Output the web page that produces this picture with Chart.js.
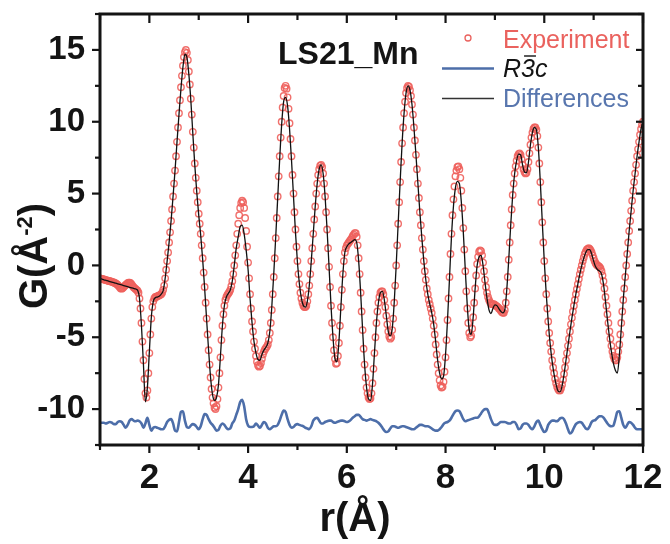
<!DOCTYPE html>
<html>
<head>
<meta charset="utf-8">
<script src="https://cdn.jsdelivr.net/npm/chart.js@4.4.1/dist/chart.umd.min.js"></script>
<style>
  html, body { margin: 0; padding: 0; background: #fff; }
  canvas { display: block; }
</style>
</head>
<body>
<canvas id="pdf" width="670" height="544"></canvas>
<script>
// r grid (Å) and axis ticks
const R_START = 1.0;
const EXP_STEP = 0.02;   // experimental G(r) sampling
const CALC_STEP = 0.04;  // refined model / difference sampling
const X_RANGE = [1, 12];
const Y_RANGE = [-12.5, 17.5];
const X_TICKS = [2, 4, 6, 8, 10, 12];
const Y_TICKS = [-10, -5, 0, 5, 10, 15];

// Experimental G(r), r = 1.00 ... 12.00 step 0.02 (one row per 0.2 Å)
const gExperiment = [
  -0.90,-0.92,-0.94,-0.96,-0.98,-1.00,-1.02,-1.04,-1.06,-1.08,
  -1.10,-1.12,-1.14,-1.16,-1.19,-1.22,-1.26,-1.30,-1.36,-1.44,
  -1.52,-1.60,-1.62,-1.58,-1.50,-1.42,-1.36,-1.30,-1.24,-1.20,
  -1.20,-1.24,-1.32,-1.42,-1.52,-1.58,-1.64,-1.70,-1.76,-1.90,
  -2.30,-3.0,-4.0,-5.3,-6.6,-7.9,-8.9,-9.2,-8.7,-7.5,
  -6.1,-4.8,-3.7,-2.9,-2.5,-2.3,-2.2,-2.2,-2.15,-2.1,
  -2.1,-2.05,-2.0,-1.9,-1.7,-1.4,-0.9,-0.3,0.3,0.9,
  1.6,2.3,3.1,3.9,4.8,5.7,6.6,7.6,8.6,9.6,
  10.6,11.5,12.4,13.2,13.9,14.5,14.85,15.0,14.8,14.3,
  13.5,12.6,11.6,10.5,9.3,8.2,7.1,6.1,5.2,4.4,
  3.6,2.9,2.2,1.4,0.5,-0.5,-1.5,-2.6,-3.7,-4.8,
  -5.9,-6.9,-7.8,-8.6,-9.2,-9.6,-9.9,-10.0,-9.8,-9.3,
  -8.5,-7.5,-6.4,-5.2,-4.2,-3.4,-2.8,-2.4,-2.2,-2.05,
  -1.95,-1.85,-1.7,-1.45,-1.1,-0.6,0.0,0.7,1.4,2.2,
  2.9,3.5,4.0,4.35,4.5,4.4,4.0,3.3,2.4,1.3,
  0.2,-0.9,-2.0,-3.0,-3.9,-4.6,-5.3,-5.8,-6.3,-6.7,
  -6.95,-7.05,-7.0,-6.8,-6.5,-6.2,-6.0,-5.85,-5.75,-5.65,
  -5.5,-5.2,-4.7,-4.0,-3.1,-2.0,-0.8,0.5,1.9,3.3,
  4.8,6.2,7.6,8.9,10.0,11.0,11.8,12.35,12.5,12.3,
  11.7,10.9,9.9,8.8,7.6,6.3,5.0,3.7,2.5,1.3,
  0.3,-0.6,-1.3,-1.9,-2.3,-2.6,-2.8,-2.9,-2.9,-2.8,
  -2.5,-2.0,-1.4,-0.6,0.3,1.2,2.2,3.2,4.1,5.0,
  5.7,6.3,6.7,6.95,7.0,6.85,6.4,5.7,4.8,3.7,
  2.5,1.2,-0.1,-1.5,-2.8,-4.0,-5.0,-5.9,-6.5,-6.85,
  -6.8,-6.3,-5.4,-4.2,-2.9,-1.7,-0.6,0.3,0.9,1.2,
  1.4,1.5,1.6,1.7,1.8,1.9,2.05,2.15,2.25,2.25,
  2.0,1.4,0.5,-0.6,-1.9,-3.2,-4.5,-5.8,-6.9,-7.8,
  -8.5,-8.9,-9.2,-9.3,-9.25,-8.9,-8.2,-7.2,-6.1,-5.0,
  -4.0,-3.2,-2.6,-2.2,-1.9,-1.8,-1.8,-2.0,-2.4,-2.9,
  -3.5,-4.1,-4.6,-4.95,-5.1,-5.0,-4.5,-3.7,-2.6,-1.4,
  0.0,1.4,2.9,4.4,5.8,7.2,8.5,9.6,10.6,11.4,
  12.0,12.35,12.5,12.45,12.2,11.8,11.2,10.5,9.6,8.7,
  7.7,6.7,5.7,4.7,3.7,2.8,1.9,1.1,0.3,-0.4,
  -1.0,-1.6,-2.0,-2.4,-2.7,-3.0,-3.3,-3.7,-4.2,-4.8,
  -5.5,-6.2,-6.9,-7.5,-8.0,-8.35,-8.5,-8.45,-8.1,-7.4,
  -6.4,-5.2,-3.8,-2.3,-0.8,0.8,2.2,3.5,4.6,5.5,
  6.2,6.6,6.85,6.9,6.7,6.1,5.2,4.0,2.6,1.1,
  -0.4,-1.8,-3.0,-4.0,-4.7,-5.0,-4.9,-4.4,-3.6,-2.6,
  -1.6,-0.7,0.1,0.6,0.95,1.05,1.0,0.7,0.2,-0.4,
  -1.0,-1.5,-1.9,-2.2,-2.4,-2.55,-2.65,-2.7,-2.7,-2.7,
  -2.75,-2.8,-2.85,-2.9,-3.0,-3.05,-3.15,-3.25,-3.3,-3.3,
  -3.1,-2.6,-1.8,-0.8,0.4,1.6,2.8,3.9,4.9,5.7,
  6.4,6.9,7.3,7.6,7.75,7.8,7.7,7.4,7.0,6.7,
  6.5,6.4,6.45,6.7,7.2,7.8,8.4,8.9,9.25,9.5,
  9.6,9.6,9.45,9.0,8.2,7.1,5.8,4.4,3.0,1.6,
  0.3,-0.9,-2.0,-3.0,-3.9,-4.7,-5.4,-6.0,-6.6,-7.1,
  -7.5,-7.9,-8.2,-8.45,-8.6,-8.7,-8.7,-8.55,-8.3,-7.95,
  -7.55,-7.1,-6.6,-6.1,-5.6,-5.1,-4.6,-4.1,-3.65,-3.2,
  -2.8,-2.4,-2.0,-1.65,-1.3,-0.95,-0.6,-0.3,0.0,0.3,
  0.55,0.8,0.95,1.1,1.15,1.2,1.15,1.05,0.9,0.7,
  0.5,0.3,0.15,0.05,0.0,-0.05,-0.1,-0.2,-0.4,-0.7,
  -1.1,-1.6,-2.2,-2.8,-3.4,-4.0,-4.6,-5.1,-5.6,-6.0,
  -6.3,-6.5,-6.6,-6.6,-6.4,-6.0,-5.5,-4.8,-4.0,-3.2,
  -2.4,-1.6,-0.8,0.0,0.8,1.6,2.4,3.1,3.8,4.5,
  5.2,5.8,6.4,7.0,7.6,8.1,8.6,9.1,9.5,9.8,
  10.0
];

// Refined R-3c model G(r), r = 1.00 ... 12.00 step 0.04
const gCalculated = [
  -0.90,-0.95,-1.00,-1.04,-1.08,
  -1.12,-1.16,-1.20,-1.24,-1.28,
  -1.32,-1.36,-1.40,-1.44,-1.48,
  -1.52,-1.56,-1.60,-1.64,-1.72,
  -2.3,-4.2,-6.9,-9.5,-8.5,
  -6.0,-3.6,-2.5,-2.25,-2.2,
  -2.15,-2.0,-1.75,-0.9,0.3,
  1.6,3.1,4.8,6.6,8.6,
  10.5,12.3,13.8,14.7,14.5,
  13.3,11.5,9.2,7.0,5.1,
  3.5,2.1,0.4,-1.6,-3.8,
  -5.9,-7.8,-9.0,-9.4,-9.2,
  -8.3,-6.3,-4.2,-2.8,-2.2,
  -1.95,-1.7,-1.1,0.0,1.2,
  2.0,2.7,2.8,2.2,1.1,
  -0.3,-2.3,-4.0,-5.3,-6.1,
  -6.55,-6.6,-6.2,-5.9,-5.7,
  -5.4,-4.6,-2.9,-0.6,2.0,
  4.7,7.4,9.8,11.4,11.7,
  11.1,9.5,7.3,4.8,2.3,
  0.2,-1.3,-2.3,-2.8,-2.9,
  -2.5,-1.4,0.3,2.2,4.1,
  5.7,6.7,7.0,6.4,4.8,
  2.5,-0.1,-2.8,-5.0,-6.5,
  -6.7,-5.3,-2.9,-0.6,0.9,
  1.3,1.5,1.6,1.7,1.8,
  1.6,0.3,-1.9,-4.5,-6.9,
  -8.5,-9.3,-9.4,-8.3,-6.1,
  -4.0,-2.6,-1.9,-1.8,-2.4,
  -3.5,-4.6,-4.9,-4.4,-2.6,
  0.0,2.9,5.8,8.5,10.6,
  12.0,12.5,12.2,11.2,9.6,
  7.7,5.7,3.7,1.9,0.3,
  -1.0,-2.0,-2.7,-3.3,-4.1,
  -5.3,-6.6,-7.5,-7.9,-7.7,
  -6.2,-3.8,-0.9,2.0,4.1,
  5.4,5.85,5.7,4.4,2.3,
  -0.3,-2.8,-4.5,-4.8,-3.6,
  -1.6,0.0,0.6,0.7,0.0,
  -1.2,-2.3,-3.1,-3.35,-3.0,
  -2.75,-2.8,-3.0,-3.2,-3.3,
  -3.1,-1.7,0.4,2.8,4.9,
  6.4,7.3,7.75,7.7,7.0,
  6.5,6.45,7.2,8.4,9.25,
  9.6,9.45,8.2,5.8,3.0,
  0.3,-2.0,-3.9,-5.5,-6.7,
  -7.6,-8.3,-8.75,-8.8,-8.4,
  -7.6,-6.6,-5.6,-4.6,-3.65,
  -2.8,-2.0,-1.3,-0.6,0.0,
  0.5,0.9,1.1,1.1,0.8,
  0.3,-0.1,-0.3,-0.4,-0.6,
  -1.3,-2.5,-3.8,-5.0,-6.0,
  -6.8,-7.3,-7.5,-6.3,-4.4,
  -2.4,-0.8,0.8,2.4,3.8,
  5.2,6.4,7.6,8.6,9.5,
  10.0
];

// Difference curve (shifted down), r = 1.00 ... 12.00 step 0.04
const gDifference = [
  -10.95,-10.95,-10.95,-11.0,-10.95,
  -10.9,-10.95,-11.05,-11.05,-10.9,
  -10.85,-10.9,-11.1,-11.3,-11.1,
  -10.8,-10.7,-10.8,-10.85,-10.8,
  -10.85,-11.0,-11.3,-11.0,-10.6,
  -11.1,-11.5,-11.3,-11.25,-11.3,
  -11.35,-11.4,-11.4,-11.2,-10.9,
  -10.75,-10.7,-11.0,-11.5,-11.55,
  -10.9,-10.2,-10.15,-10.8,-11.25,
  -11.3,-11.15,-11.05,-11.1,-11.25,
  -11.4,-11.2,-10.7,-10.35,-10.4,
  -10.7,-10.95,-11.1,-11.3,-11.5,
  -11.45,-11.15,-11.0,-11.1,-11.3,
  -11.4,-11.35,-11.0,-10.8,-10.4,
  -10.0,-9.5,-9.35,-9.8,-10.7,
  -11.15,-11.25,-11.25,-11.2,-11.0,
  -11.15,-11.3,-11.1,-10.9,-11.0,
  -11.3,-11.4,-11.3,-11.2,-11.2,
  -11.1,-10.8,-10.4,-10.1,-10.2,
  -10.7,-11.1,-11.3,-11.25,-11.1,
  -11.05,-11.1,-11.15,-11.2,-11.3,
  -11.35,-11.4,-11.2,-10.8,-10.65,
  -10.6,-10.8,-11.0,-11.0,-10.9,
  -10.85,-10.8,-10.8,-10.9,-10.95,
  -10.9,-10.85,-10.8,-10.8,-10.85,
  -10.9,-10.85,-10.75,-10.6,-10.5,
  -10.4,-10.4,-10.55,-10.7,-10.75,
  -10.8,-10.75,-10.7,-10.75,-10.8,
  -10.85,-10.95,-11.1,-11.3,-11.5,
  -11.6,-11.55,-11.35,-11.2,-11.2,
  -11.25,-11.3,-11.25,-11.2,-11.2,
  -11.25,-11.3,-11.35,-11.4,-11.4,
  -11.3,-11.2,-11.1,-11.1,-11.15,
  -11.2,-11.2,-11.25,-11.35,-11.45,
  -11.5,-11.5,-11.4,-11.25,-11.05,
  -10.95,-10.9,-10.8,-10.6,-10.35,
  -10.15,-10.1,-10.15,-10.4,-10.7,
  -10.85,-10.8,-10.75,-10.7,-10.65,
  -10.6,-10.6,-10.5,-10.3,-10.1,
  -10.0,-10.0,-10.3,-10.7,-11.0,
  -11.1,-11.1,-11.0,-10.9,-10.9,
  -10.9,-10.95,-11.0,-11.0,-10.9,
  -10.9,-11.1,-11.4,-11.35,-11.1,
  -11.0,-11.0,-11.1,-11.3,-11.4,
  -11.2,-10.9,-10.8,-11.1,-11.4,
  -11.6,-11.5,-11.1,-10.9,-10.8,
  -10.8,-10.85,-10.8,-10.65,-10.6,
  -10.7,-11.0,-11.4,-11.7,-11.6,
  -11.3,-11.05,-10.95,-10.9,-10.95,
  -11.15,-11.35,-11.4,-11.2,-10.9,
  -10.8,-10.75,-10.6,-10.5,-10.5,
  -10.6,-10.8,-11.0,-11.15,-11.2,
  -11.15,-10.7,-10.2,-10.15,-10.6,
  -11.1,-11.3,-11.1,-10.9,-10.95,
  -11.1,-11.3,-11.4,-11.4,-11.4,
  -11.4
];

const FONT = '"Liberation Sans", Arial, Helvetica, sans-serif';
const INK = '#141414';
const RED = '#ea625e';
const BLUE = '#4d6ea9';

const toPoints = (vals, step) =>
  vals.map((v, i) => ({ x: +(R_START + i * step).toFixed(2), y: v }));

// midpoints between major ticks, plus one half-step beyond each end if inside the range
function minorValues(majors, lo, hi) {
  const half = (majors[1] - majors[0]) / 2;
  const out = [];
  const first = majors[0] - half;
  if (first >= lo - 1e-9) out.push(first);
  for (let i = 0; i < majors.length - 1; i++) out.push((majors[i] + majors[i + 1]) / 2);
  const last = majors[majors.length - 1] + half;
  if (last <= hi + 1e-9) out.push(last);
  return out;
}

// plot frame with tick marks: outward on left/bottom, inward on top/right
const frameTicks = {
  id: 'frameTicks',
  afterDatasetsDraw(chart) {
    const { ctx, chartArea: a, scales: { x, y } } = chart;
    ctx.save();
    ctx.strokeStyle = INK;
    ctx.lineCap = 'butt';
    ctx.lineWidth = 2.2;
    const tick = (x1, y1, x2, y2) => { ctx.beginPath(); ctx.moveTo(x1, y1); ctx.lineTo(x2, y2); ctx.stroke(); };
    X_TICKS.forEach(v => {
      const px = x.getPixelForValue(v);
      tick(px, a.bottom, px, a.bottom + 8);
      tick(px, a.top, px, a.top + 9);
    });
    minorValues(X_TICKS, X_RANGE[0], X_RANGE[1]).forEach(v => {
      const px = x.getPixelForValue(v);
      tick(px, a.bottom, px, a.bottom + 5);
      tick(px, a.top, px, a.top + 6);
    });
    Y_TICKS.forEach(v => {
      const py = y.getPixelForValue(v);
      tick(a.left, py, a.left - 8, py);
      tick(a.right, py, a.right - 7, py);
    });
    minorValues(Y_TICKS, Y_RANGE[0], Y_RANGE[1]).forEach(v => {
      const py = y.getPixelForValue(v);
      tick(a.left, py, a.left - 5, py);
      tick(a.right, py, a.right - 5, py);
    });
    ctx.lineWidth = 3;
    ctx.strokeRect(a.left, a.top, a.right - a.left, a.bottom - a.top);
    ctx.restore();
  }
};

// axis titles, sample name and key
const annotations = {
  id: 'annotations',
  afterDraw(chart) {
    const { ctx } = chart;
    ctx.save();
    ctx.textBaseline = 'alphabetic';

    // x title
    ctx.fillStyle = INK;
    ctx.font = `bold 40px ${FONT}`;
    ctx.textAlign = 'center';
    ctx.fillText('r(Å)', 355, 531);

    // y title with superscript
    ctx.save();
    ctx.translate(47, 256);
    ctx.rotate(-Math.PI / 2);
    ctx.textAlign = 'left';
    const big = `bold 40px ${FONT}`, small = `bold 22px ${FONT}`;
    ctx.font = big; const w1 = ctx.measureText('G(Å').width; const w3 = ctx.measureText(')').width;
    ctx.font = small; const w2 = ctx.measureText('-2').width;
    let u = -(w1 + w2 + w3) / 2;
    ctx.font = big; ctx.fillText('G(Å', u, 0); u += w1;
    ctx.font = small; ctx.fillText('-2', u, -15); u += w2;
    ctx.font = big; ctx.fillText(')', u, 0);
    ctx.restore();

    // sample name
    ctx.textAlign = 'left';
    ctx.font = `bold 32px ${FONT}`;
    ctx.fillText('LS21_Mn', 278, 64);

    // key
    ctx.strokeStyle = RED;
    ctx.lineWidth = 1.3;
    ctx.beginPath(); ctx.arc(468, 38, 3, 0, Math.PI * 2); ctx.stroke();
    ctx.font = `25px ${FONT}`;
    ctx.fillStyle = RED;
    ctx.fillText('Experiment', 503, 48);

    ctx.strokeStyle = BLUE; ctx.lineWidth = 2.5;
    ctx.beginPath(); ctx.moveTo(442, 68.5); ctx.lineTo(494, 68.5); ctx.stroke();
    ctx.fillStyle = INK;
    ctx.font = `italic 25px ${FONT}`;
    const rW = ctx.measureText('R').width, tW = ctx.measureText('3').width;
    ctx.fillText('R', 503, 77);
    ctx.fillText('3', 503 + rW, 77);
    ctx.fillText('c', 503 + rW + tW, 77);
    ctx.strokeStyle = INK; ctx.lineWidth = 1.4;
    ctx.beginPath(); ctx.moveTo(503 + rW + 3, 56); ctx.lineTo(503 + rW + tW + 1, 56); ctx.stroke();

    ctx.strokeStyle = '#333'; ctx.lineWidth = 1.6;
    ctx.beginPath(); ctx.moveTo(442, 98.5); ctx.lineTo(494, 98.5); ctx.stroke();
    ctx.fillStyle = '#5876ae';
    ctx.font = `25px ${FONT}`;
    ctx.fillText('Differences', 503, 107);
    ctx.restore();
  }
};

new Chart(document.getElementById('pdf'), {
  type: 'scatter',
  data: {
    datasets: [
      {
        label: 'Differences',
        data: toPoints(gDifference, CALC_STEP),
        showLine: true,
        borderColor: BLUE,
        borderWidth: 2.6,
        pointRadius: 0,
        cubicInterpolationMode: 'monotone',
        order: 3
      },
      {
        label: 'Experiment',
        data: toPoints(gExperiment, EXP_STEP),
        showLine: false,
        pointStyle: 'circle',
        pointRadius: 3.2,
        pointBorderWidth: 1.4,
        pointBorderColor: 'rgba(238,96,92,0.9)',
        pointBackgroundColor: 'rgba(255,255,255,0)',
        order: 2
      },
      {
        label: 'R-3c',
        data: toPoints(gCalculated, CALC_STEP),
        showLine: true,
        borderColor: '#111',
        borderWidth: 1.3,
        pointRadius: 0,
        cubicInterpolationMode: 'monotone',
        order: 1
      }
    ]
  },
  options: {
    responsive: false,
    animation: false,
    devicePixelRatio: 1,
    layout: { padding: { left: 0, right: 27, top: 14, bottom: 0 } },
    plugins: { legend: { display: false }, tooltip: { enabled: false } },
    scales: {
      x: {
        type: 'linear',
        min: X_RANGE[0],
        max: X_RANGE[1],
        grid: { display: false, drawTicks: false },
        border: { display: false },
        afterBuildTicks: s => { s.ticks = X_TICKS.map(v => ({ value: v })); },
        afterFit: s => { s.height = 99; s.paddingLeft = 0; s.paddingRight = 0; },
        ticks: {
          color: INK,
          padding: 12,
          maxRotation: 0,
          autoSkip: false,
          font: { family: FONT, size: 35, weight: 'bold' }
        }
      },
      y: {
        type: 'linear',
        min: Y_RANGE[0],
        max: Y_RANGE[1],
        grid: { display: false, drawTicks: false },
        border: { display: false },
        afterBuildTicks: s => { s.ticks = Y_TICKS.map(v => ({ value: v })); },
        afterFit: s => { s.width = 100; s.paddingTop = 0; s.paddingBottom = 0; },
        ticks: {
          color: INK,
          padding: 15,
          autoSkip: false,
          font: { family: FONT, size: 33, weight: 'bold' }
        }
      }
    }
  },
  plugins: [frameTicks, annotations]
});
</script>
</body>
</html>
